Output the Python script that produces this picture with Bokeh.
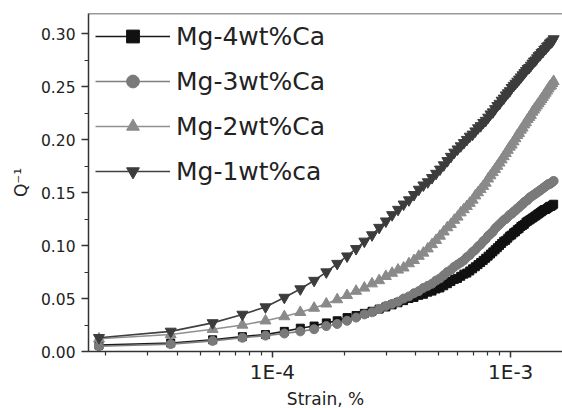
from bokeh.plotting import figure
from bokeh.models import FixedTicker, CustomJSTickFormatter, Span, SingleIntervalTicker, PrintfTickFormatter, Title
from bokeh.embed import file_html
from bokeh.resources import INLINE

# Strain in units of 1E-5 (marker positions)
strain_e5 = [1.87, 3.74, 5.61, 7.48, 9.35, 11.22, 13.09, 14.96, 16.83, 18.70,
             20.57, 22.44, 24.31, 26.18, 28.05, 29.92, 31.79, 33.66, 35.53, 37.40,
             39.27, 41.14, 43.01, 44.88, 46.75, 48.62, 50.49, 52.36, 54.23, 56.10,
             57.97, 59.84, 61.71, 63.58, 65.45, 67.32, 69.19, 71.06, 72.93, 74.80,
             76.67, 78.54, 80.41, 82.28, 84.15, 86.02, 87.89, 89.76, 91.63, 93.50,
             95.37, 97.24, 99.11, 100.98, 102.85, 104.72, 106.59, 108.46, 110.33, 112.20,
             114.07, 115.94, 117.81, 119.68, 121.55, 123.42, 125.29, 127.16, 129.03, 130.90,
             132.77, 134.64, 136.51, 138.38, 140.25, 142.12, 143.99, 145.86, 147.73, 149.60,
             151.47]

mg4 = [0.006, 0.008, 0.011, 0.014, 0.016, 0.019, 0.022, 0.024, 0.027, 0.029,
       0.032, 0.034, 0.036, 0.038, 0.040, 0.042, 0.044, 0.046, 0.048, 0.050,
       0.051, 0.053, 0.054, 0.056, 0.057, 0.059, 0.060, 0.062, 0.064, 0.066,
       0.068, 0.069, 0.071, 0.073, 0.074, 0.076, 0.078, 0.080, 0.082, 0.084,
       0.086, 0.088, 0.090, 0.092, 0.094, 0.096, 0.098, 0.100, 0.102, 0.104,
       0.105, 0.107, 0.109, 0.110, 0.112, 0.113, 0.115, 0.116, 0.118, 0.119,
       0.120, 0.122, 0.123, 0.124, 0.125, 0.126, 0.127, 0.128, 0.129, 0.130,
       0.131, 0.132, 0.133, 0.134, 0.134, 0.135, 0.136, 0.137, 0.137, 0.138,
       0.139]

mg3 = [0.005, 0.007, 0.010, 0.013, 0.015, 0.017, 0.019, 0.021, 0.024, 0.026,
       0.029, 0.032, 0.035, 0.037, 0.040, 0.043, 0.045, 0.047, 0.050, 0.052,
       0.055, 0.057, 0.060, 0.062, 0.064, 0.067, 0.069, 0.072, 0.075, 0.077,
       0.080, 0.082, 0.084, 0.086, 0.089, 0.091, 0.094, 0.096, 0.099, 0.101,
       0.104, 0.106, 0.109, 0.111, 0.113, 0.116, 0.118, 0.120, 0.122, 0.124,
       0.125, 0.127, 0.129, 0.130, 0.132, 0.133, 0.135, 0.136, 0.138, 0.139,
       0.141, 0.142, 0.143, 0.145, 0.146, 0.147, 0.148, 0.149, 0.150, 0.151,
       0.152, 0.153, 0.154, 0.155, 0.156, 0.157, 0.158, 0.158, 0.159, 0.160,
       0.161]

mg2 = [0.012, 0.016, 0.021, 0.025, 0.029, 0.033, 0.037, 0.041, 0.045, 0.049,
       0.053, 0.057, 0.060, 0.064, 0.067, 0.071, 0.074, 0.077, 0.079, 0.083,
       0.086, 0.090, 0.093, 0.097, 0.101, 0.105, 0.109, 0.113, 0.117, 0.120,
       0.124, 0.127, 0.131, 0.134, 0.137, 0.140, 0.143, 0.147, 0.150, 0.153,
       0.156, 0.159, 0.163, 0.166, 0.169, 0.172, 0.175, 0.178, 0.181, 0.184,
       0.187, 0.190, 0.193, 0.195, 0.198, 0.201, 0.204, 0.206, 0.209, 0.211,
       0.214, 0.216, 0.219, 0.221, 0.223, 0.226, 0.228, 0.230, 0.232, 0.234,
       0.236, 0.238, 0.240, 0.242, 0.244, 0.246, 0.248, 0.250, 0.251, 0.253,
       0.255]

mg1 = [0.013, 0.019, 0.027, 0.035, 0.042, 0.051, 0.059, 0.067, 0.075, 0.083,
       0.090, 0.097, 0.104, 0.110, 0.117, 0.123, 0.129, 0.134, 0.139, 0.143,
       0.148, 0.153, 0.157, 0.160, 0.164, 0.168, 0.172, 0.176, 0.180, 0.184,
       0.188, 0.191, 0.194, 0.197, 0.200, 0.203, 0.205, 0.208, 0.211, 0.213,
       0.216, 0.218, 0.221, 0.224, 0.226, 0.229, 0.232, 0.234, 0.237, 0.239,
       0.242, 0.244, 0.246, 0.249, 0.251, 0.253, 0.255, 0.257, 0.259, 0.261,
       0.263, 0.265, 0.267, 0.268, 0.270, 0.272, 0.274, 0.275, 0.277, 0.279,
       0.280, 0.282, 0.283, 0.285, 0.286, 0.288, 0.289, 0.291, 0.292, 0.293,
       0.295]

series_labels = ["Mg-4wt%Ca", "Mg-3wt%Ca", "Mg-2wt%Ca", "Mg-1wt%ca"]
x_title = "Strain, %"
y_title = "Q\u207b\u00b9"
x_major = [1e-4, 1e-3]
x_minor = [2e-5, 3e-5, 4e-5, 5e-5, 6e-5, 7e-5, 8e-5, 9e-5,
           2e-4, 3e-4, 4e-4, 5e-4, 6e-4, 7e-4, 8e-4, 9e-4]

strain = [s * 1e-5 for s in strain_e5]

X_START, X_END = 1.69e-5, 1.65e-3
Y_START, Y_END = 0.0, 0.319

FONT = "DejaVu Sans"
AX = "#333333"

p = figure(width=562, height=408, x_axis_type="log",
           x_range=(X_START, X_END), y_range=(Y_START, Y_END),
           output_backend="svg", toolbar_location=None,
           min_border_left=88, min_border_right=0, min_border_top=13, min_border_bottom=0)
p.outline_line_color = None
p.xgrid.visible = False
p.ygrid.visible = False
p.background_fill_color = "white"
p.border_fill_color = "white"

styles = [
    dict(data=mg4, marker="square", size=8, color="#111111", lcolor="#1a1a1a"),
    dict(data=mg3, marker="circle", size=9, color="#7a7a7a", lcolor="#7f7f7f"),
    dict(data=mg2, marker="triangle", size=11, color="#8a8a8a", lcolor="#909090"),
    dict(data=mg1, marker="inverted_triangle", size=11, color="#3c3c3c", lcolor="#404040"),
]
for lab, st in zip(series_labels, styles):
    p.line(strain, st["data"], line_color=st["lcolor"], line_width=1.6, legend_label=lab)
    p.scatter(strain, st["data"], marker=st["marker"], size=st["size"],
              fill_color=st["color"], line_color=st["color"], legend_label=lab)

# top frame line
p.add_layout(Span(location=Y_END, dimension="width", line_color=AX, line_width=1.5))

# x axis
xa = p.xaxis[0]
xa.ticker = FixedTicker(ticks=x_major, minor_ticks=x_minor)
xa.formatter = CustomJSTickFormatter(code='return "1E" + Math.round(Math.log10(tick));')
xa.major_label_text_font = FONT
xa.major_label_text_font_size = "20px"
xa.major_label_text_color = "#222222"
xa.major_label_standoff = 2
xa.axis_line_color = AX
xa.axis_line_width = 1.5
xa.major_tick_line_color = AX
xa.minor_tick_line_color = AX
xa.major_tick_line_width = 1.5
xa.minor_tick_line_width = 1.2
xa.major_tick_out = 6
xa.major_tick_in = 0
xa.minor_tick_out = 4
xa.minor_tick_in = 0

# x axis title, as a title panel below the axis
p.add_layout(Title(text=x_title, align="center", text_font=FONT, text_font_size="17px",
                   text_font_style="normal", text_color="#222222", standoff=0), "below")

# y axis
ya = p.yaxis[0]
ya.ticker = SingleIntervalTicker(interval=0.05, num_minor_ticks=2)
ya.formatter = PrintfTickFormatter(format="%.2f")
ya.axis_label = y_title
ya.axis_label_text_font = FONT
ya.axis_label_text_font_size = "17px"
ya.axis_label_text_font_style = "normal"
ya.axis_label_text_color = "#222222"
ya.axis_label_standoff = 7
ya.major_label_text_font = FONT
ya.major_label_text_font_size = "15.5px"
ya.major_label_text_color = "#222222"
ya.major_label_standoff = 6
ya.axis_line_color = AX
ya.axis_line_width = 1.5
ya.major_tick_line_color = AX
ya.minor_tick_line_color = AX
ya.major_tick_line_width = 1.5
ya.minor_tick_line_width = 1.2
ya.major_tick_out = 7
ya.major_tick_in = 0
ya.minor_tick_out = 4
ya.minor_tick_in = 0

# legend
lg = p.legend[0]
lg.location = "top_left"
lg.margin = 7
lg.padding = 7
lg.spacing = 13
lg.glyph_width = 75
lg.glyph_height = 32
lg.label_standoff = 6
lg.label_text_font = FONT
lg.label_text_font_size = "25px"
lg.label_text_color = "#222222"
lg.border_line_color = None
lg.background_fill_color = "white"
lg.background_fill_alpha = 1.0

open("out.html", "w").write(file_html(p, INLINE))
